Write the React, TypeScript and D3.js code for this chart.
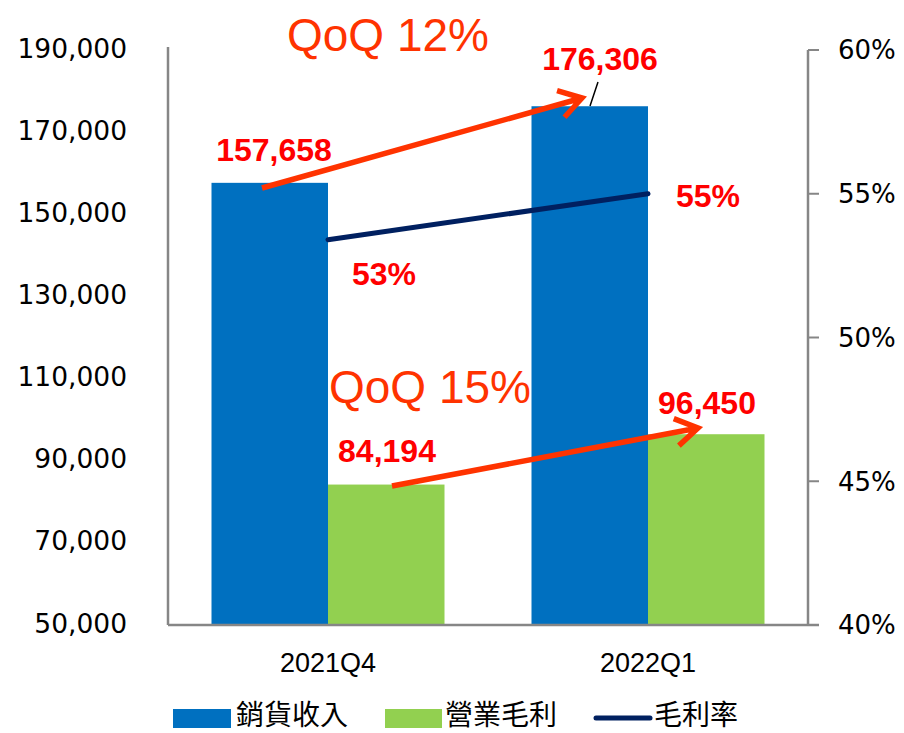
import React from "react";
import * as d3 from "d3";

const categories = ["2021Q4", "2022Q1"];
const revenue = [157658, 176306];
const grossProfit = [84194, 96450];
const marginRate = [53.4, 55.0];
const marginLabels = ["53%", "55%"];
const leftTicks = [50000, 70000, 90000, 110000, 130000, 150000, 170000, 190000];
const rightTicks = [40, 45, 50, 55, 60];
const qoqLabels = ["QoQ 12%", "QoQ 15%"];
const legendItems = ["銷貨收入", "營業毛利", "毛利率"];

const BLUE = "#0070C0";
const GREEN = "#92D050";
const NAVY = "#002060";
const RED = "#FF0000";
const ORANGE = "#FF3300";
const AXIS = "#868686";

const fmt = d3.format(",");

// arrow helper: line + open head
const Arrow = ({ x1, y1, x2, y2 }: { x1: number; y1: number; x2: number; y2: number }) => {
  const ang = Math.atan2(y2 - y1, x2 - x1);
  const len = 26;
  const spread = (32 * Math.PI) / 180;
  const a1 = ang + Math.PI - spread;
  const a2 = ang + Math.PI + spread;
  const d =
    `M${x1},${y1}L${x2},${y2}` +
    `M${x2 + len * Math.cos(a1)},${y2 + len * Math.sin(a1)}L${x2},${y2}L${x2 + len * Math.cos(a2)},${y2 + len * Math.sin(a2)}`;
  return <path d={d} stroke={ORANGE} strokeWidth={5.5} fill="none" strokeLinecap="butt" strokeLinejoin="miter" />;
};

export default function App() {
  const width = 904;
  const height = 733;
  const left = 168;
  const right = 808;
  const top = 50;
  const bottom = 625;

  const x = d3.scaleBand().domain(categories).range([left, right]).padding(0);
  const barW = 116.5;
  const yL = d3.scaleLinear().domain([50000, 190000]).range([bottom, top]);
  const yR = d3.scaleLinear().domain([40, 60]).range([bottom, top]);

  const cx = (i: number) => (x(categories[i]) as number) + x.bandwidth() / 2;

  const line = d3
    .line<number>()
    .x((_, i) => cx(i))
    .y((d) => yR(d));

  const valFont = "Liberation Sans, Arial, sans-serif";

  return (
    <svg
      width={width}
      height={height}
      style={{ position: "absolute", left: 0, top: 0, background: "#fff" }}
    >
      {/* bars */}
      {categories.map((c, i) => (
        <g key={c}>
          <rect x={cx(i) - barW} y={yL(revenue[i])} width={barW} height={bottom - yL(revenue[i])} fill={BLUE} />
          <rect x={cx(i)} y={yL(grossProfit[i])} width={barW} height={bottom - yL(grossProfit[i])} fill={GREEN} />
        </g>
      ))}

      {/* axes */}
      <line x1={left} y1={top - 3} x2={left} y2={bottom} stroke={AXIS} strokeWidth={2.5} />
      <line x1={left} y1={bottom} x2={right + 11} y2={bottom} stroke={AXIS} strokeWidth={2.5} />
      <line x1={right} y1={top} x2={right} y2={bottom} stroke={AXIS} strokeWidth={2.5} />
      {rightTicks.map((t) => (
        <g key={t}>
          <line x1={right} x2={right + 11} y1={yR(t)} y2={yR(t)} stroke={AXIS} strokeWidth={2} />
          <text x={838} y={yR(t)} dy="0.36em" fontFamily="DejaVu Sans, Verdana, sans-serif" fontSize={26} fill="#000">
            {t}%
          </text>
        </g>
      ))}
      {leftTicks.map((t) => (
        <text
          key={t}
          x={127}
          y={yL(t) - 2}
          dy="0.36em"
          textAnchor="end"
          fontFamily="DejaVu Sans, Verdana, sans-serif"
          fontSize={26.5}
          fill="#000"
        >
          {fmt(t)}
        </text>
      ))}
      {categories.map((c, i) => (
        <text
          key={c}
          x={cx(i)}
          y={672}
          textAnchor="middle"
          fontFamily="Liberation Sans Narrow, Arial Narrow, sans-serif"
          fontSize={27}
          fill="#000"
        >
          {c}
        </text>
      ))}

      {/* margin line */}
      <path d={line(marginRate) as string} stroke={NAVY} strokeWidth={5} fill="none" strokeLinecap="round" />

      {/* leader line for 176,306 */}
      <line x1={598} y1={82} x2={590} y2={106} stroke="#000" strokeWidth={1.5} />

      {/* arrows */}
      <Arrow x1={262} y1={188} x2={582} y2={98} />
      <Arrow x1={392} y1={486} x2={698} y2={428} />

      {/* value labels */}
      <text x={274} y={161} textAnchor="middle" fontFamily={valFont} fontWeight="bold" fontSize={32} fill={RED}>
        {fmt(revenue[0])}
      </text>
      <text x={600} y={70} textAnchor="middle" fontFamily={valFont} fontWeight="bold" fontSize={32} fill={RED}>
        {fmt(revenue[1])}
      </text>
      <text x={387} y={462} textAnchor="middle" fontFamily={valFont} fontWeight="bold" fontSize={32} fill={RED}>
        {fmt(grossProfit[0])}
      </text>
      <text x={707} y={414} textAnchor="middle" fontFamily={valFont} fontWeight="bold" fontSize={32} fill={RED}>
        {fmt(grossProfit[1])}
      </text>
      <text x={384} y={285} textAnchor="middle" fontFamily={valFont} fontWeight="bold" fontSize={32} fill={RED}>
        {marginLabels[0]}
      </text>
      <text x={708} y={207} textAnchor="middle" fontFamily={valFont} fontWeight="bold" fontSize={32} fill={RED}>
        {marginLabels[1]}
      </text>

      {/* QoQ */}
      <text x={287} y={51} fontFamily={valFont} fontSize={46} fill={ORANGE}>
        {qoqLabels[0]}
      </text>
      <text x={329} y={403} fontFamily={valFont} fontSize={46} fill={ORANGE}>
        {qoqLabels[1]}
      </text>

      {/* legend */}
      <g fontFamily="Noto Sans CJK TC, sans-serif" fontSize={28} fill="#000">
        <rect x={173} y={709} width={58} height={19} fill={BLUE} />
        <text x={236} y={715} dy="0.36em">{legendItems[0]}</text>
        <rect x={385} y={709} width={57} height={19} fill={GREEN} />
        <text x={445} y={715} dy="0.36em">{legendItems[1]}</text>
        <line x1={596} x2={650} y1={718} y2={718} stroke={NAVY} strokeWidth={5} strokeLinecap="round" />
        <text x={654} y={715} dy="0.36em">{legendItems[2]}</text>
      </g>
    </svg>
  );
}
